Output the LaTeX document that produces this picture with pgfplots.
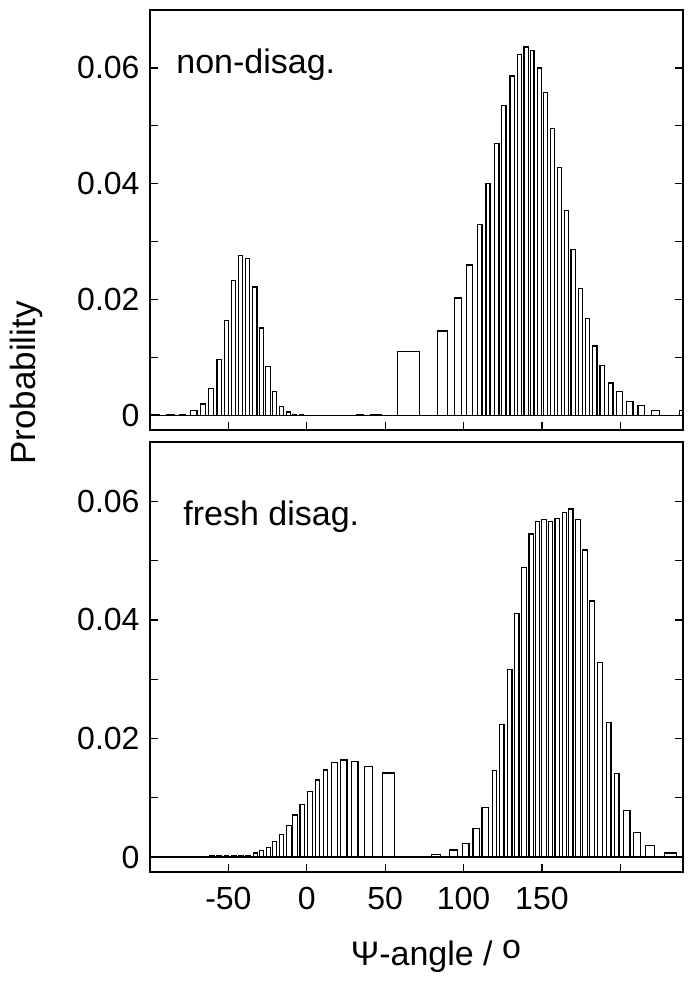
\documentclass[border=0pt]{standalone}
\usepackage{fontspec}
\setmainfont{Liberation Sans}
\usepackage{pgfplots}
\pgfplotsset{compat=1.18}

% bars as (left edge, height) / (right edge, 0) pairs, drawn with ybar interval
\pgfplotstableread{
x y
-99.0 0.0002
-94.1 0
-89.4 0.0002
-84.3 0
-81.3 0.0002
-77.2 0
-74.0 0.0008
-70.0 0
-67.9 0.0020
-64.7 0
-62.5 0.0046
-59.6 0
-57.2 0.0097
-54.2 0
-52.7 0.0164
-50.0 0
-48.1 0.0233
-45.3 0
-43.6 0.0276
-40.8 0
-39.1 0.0271
-36.3 0
-34.7 0.0222
-31.8 0
-30.4 0.0151
-27.6 0
-26.3 0.0085
-23.3 0
-22.1 0.0041
-19.3 0
-17.6 0.0016
-14.8 0
-13.1 0.0006
-10.4 0
-9.1 0.0002
-6.7 0
-4.6 0.0002
-2.0 0
32.1 0.0002
36.3 0
41.0 0.0002
47.4 0
57.7 0.0110
72.0 0
83.6 0.0146
90.0 0
94.3 0.0203
98.6 0
101.8 0.0260
105.8 0
108.8 0.0330
111.8 0
114.3 0.0400
116.9 0
119.9 0.0469
122.6 0
124.2 0.0535
127.1 0
129.7 0.0586
132.5 0
134.4 0.0623
137.0 0
138.6 0.0636
141.4 0
142.5 0.0630
145.0 0
147.2 0.0600
149.9 0
150.8 0.0557
153.8 0
155.7 0.0495
158.2 0
160.0 0.0428
162.7 0
164.2 0.0354
166.8 0
168.5 0.0287
171.2 0
173.1 0.0219
176.0 0
177.6 0.0168
180.4 0
182.5 0.0120
185.1 0
187.0 0.0087
190.0 0
192.3 0.0056
195.3 0
197.4 0.0041
201.5 0
204.1 0.0024
208.1 0
211.3 0.0017
215.3 0
219.8 0.0008
225.0 0
237.7 0.0008
239.9 0
}\nondisag

\pgfplotstableread{
x y
-62.1 0.0002
-59.1 0
-57.4 0.0002
-54.5 0
-52.6 0.0002
-49.7 0
-47.8 0.0002
-44.9 0
-43.2 0.0003
-40.4 0
-38.7 0.0003
-35.9 0
-34.0 0.0007
-31.5 0
-30.2 0.0011
-27.4 0
-25.7 0.0017
-23.1 0
-21.6 0.0026
-19.1 0
-17.4 0.0038
-14.6 0
-12.7 0.0053
-9.9 0
-9.1 0.0071
-6.1 0
-4.3 0.0089
-1.6 0
0.5 0.0111
3.5 0
5.4 0.0130
8.2 0
10.5 0.0147
13.3 0
15.9 0.0159
19.7 0
21.6 0.0164
25.7 0
28.6 0.0162
32.7 0
36.6 0.0153
41.9 0
48.5 0.0142
56.1 0
79.4 0.0004
85.4 0
91.0 0.0012
96.4 0
99.6 0.0023
103.5 0
106.0 0.0049
110.1 0
111.8 0.0084
115.9 0
118.4 0.0146
121.2 0
122.9 0.0224
125.8 0
128.0 0.0317
130.9 0
132.5 0.0411
135.4 0
137.1 0.0489
140.2 0
141.8 0.0545
144.6 0
145.7 0.0566
148.5 0
149.9 0.0569
152.9 0
154.0 0.0566
157.0 0
158.4 0.0571
161.4 0
163.2 0.0581
165.9 0
167.0 0.0587
169.8 0
171.2 0.0569
174.4 0
176.0 0.0518
178.9 0
180.6 0.0432
183.6 0
185.7 0.0328
188.7 0
191.0 0.0227
194.1 0
196.2 0.0141
199.2 0
202.2 0.0079
206.2 0
208.6 0.0041
212.8 0
216.2 0.0020
221.7 0
228.0 0.0007
235.8 0
}\freshdisag

\pgfplotsset{
  panel/.style={
    scale only axis,
    width=266.5pt,
    xmin=-100, xmax=240,
    ymin=-0.0025, ymax=0.07,
    xtick={-50,0,50,100,150,200},
    ytick={0,0.02,0.04,0.06},
    yticklabels={0,0.02,0.04,0.06},
    minor ytick={0.01,0.03,0.05},
    scaled x ticks=false,
    scaled y ticks=false,
    xtick pos=bottom,
    ytick pos=both,
    tick align=inside,
    major tick length=4pt,
    minor tick length=4pt,
    every tick/.style={black, line width=0.6pt},
    axis line style={line width=0.6pt},
    x tick label as interval=false,
    tick label style={font=\fontsize{16}{16}\selectfont},
    yticklabel style={xshift=-1.7pt},
    xticklabel style={yshift=-4pt},
  },
  bars/.style={ybar interval, draw=black, fill=white, line width=0.6pt},
}

\begin{document}
\begin{tikzpicture}
\useasboundingbox (-75pt,5pt) rectangle (272pt,-486pt);

\begin{axis}[panel, at={(0,0)}, anchor=north west, height=210pt, xticklabels={}]
\addplot[bars] table {\nondisag};
\draw[line width=0.7pt] (axis cs:-100,0) -- (axis cs:240,0);
\end{axis}

\begin{axis}[panel, at={(0,-216pt)}, anchor=north west, height=215pt,
  xticklabels={-50,0,50,100,150,{}}]
\addplot[bars] table {\freshdisag};
\draw[line width=0.7pt] (axis cs:-100,0) -- (axis cs:240,0);
\end{axis}

\node[anchor=base west, inner sep=0pt, font=\fontsize{17}{17}\selectfont] at (13pt,-31.7pt) {non-disag.};
\node[anchor=base west, inner sep=0pt, font=\fontsize{17}{17}\selectfont] at (16.5pt,-257.5pt) {fresh disag.};
\node[rotate=90, font=\fontsize{17.5}{17.5}\selectfont] at (-62pt,-186.5pt) {Probability};
\node[anchor=base, font=\fontsize{17}{17}\selectfont] at (143pt,-477.5pt) {Ψ-angle / \raisebox{3.5pt}{o}};
\end{tikzpicture}
\end{document}
